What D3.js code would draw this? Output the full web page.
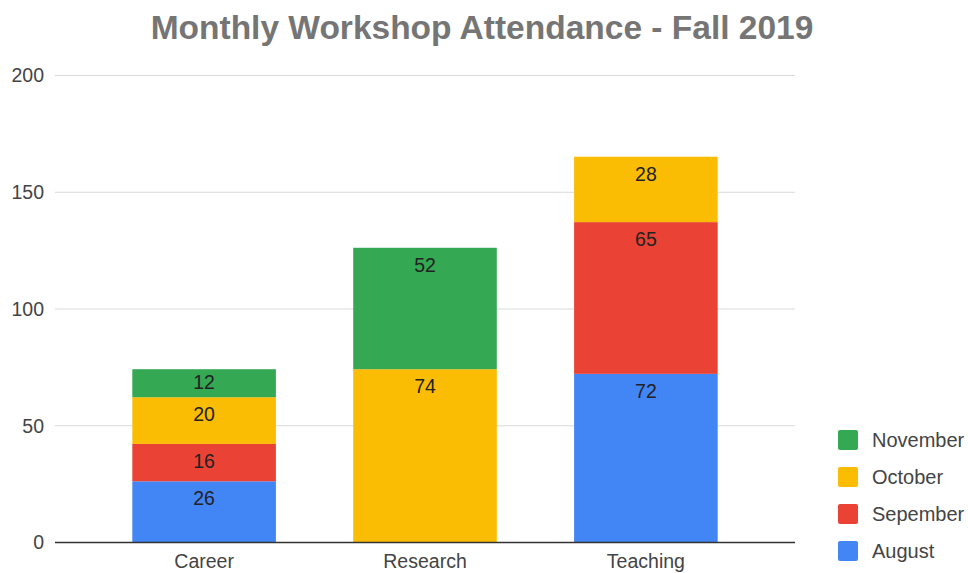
<!DOCTYPE html>
<meta charset="utf-8">
<style>
body { margin: 0; background: #fff; }
text { font-family: "Liberation Sans", Arial, sans-serif; }
.grid line { stroke: #d9d9d9; stroke-width: 1px; }
.tick text { fill: #444; font-size: 19.5px; font-family: "Liberation Sans", Arial, sans-serif; }
</style>
<body>
<script src="https://d3js.org/d3.v7.min.js"></script>
<script>

var width = 968,
    height = 573;

// data
var categories = ["Career", "Research", "Teaching"];
var months = ["August", "Sepember", "October", "November"];
var august   = [26, 0, 72];
var september = [16, 0, 65];
var october  = [20, 74, 28];
var november = [12, 52, 0];
var yTicks = [0, 50, 100, 150, 200];
var colors = ["#4285f4", "#ea4335", "#fbbc04", "#34a853"];

var series = [august, september, october, november];
var rows = categories.map(function(c, i) {
  var r = {cat: c};
  months.forEach(function(m, j) { r[m] = series[j][i]; });
  return r;
});

var x = d3.scaleBand()
    .domain(categories)
    .range([55, 795])
    .paddingInner(0.35)
    .paddingOuter(0.35);

var y = d3.scaleLinear()
    .domain([0, 200])
    .range([542, 75]);

var svg = d3.select("body").append("svg")
    .attr("width", width)
    .attr("height", height);

svg.append("text")
    .attr("x", 482)
    .attr("y", 39)
    .attr("text-anchor", "middle")
    .style("font-size", "33.5px")
    .style("font-weight", "bold")
    .style("fill", "#757575")
    .text("Monthly Workshop Attendance - Fall 2019");

// gridlines
svg.append("g")
    .attr("class", "grid")
    .selectAll("line")
    .data(yTicks.slice(1))
    .enter().append("line")
    .attr("x1", 55).attr("x2", 795)
    .attr("y1", function(d) { return y(d) + 0.5; })
    .attr("y2", function(d) { return y(d) + 0.5; });

// y axis labels
var yAxis = svg.append("g")
    .attr("transform", "translate(44,0)")
    .call(d3.axisLeft(y).tickValues(yTicks).tickSize(0).tickPadding(0));
yAxis.select(".domain").remove();
yAxis.selectAll("text").attr("dy", "0.35em");

var stack = d3.stack().keys(months)(rows);

var layer = svg.selectAll(".layer")
    .data(stack)
    .enter().append("g")
    .attr("class", "layer")
    .attr("fill", function(d, i) { return colors[i]; });

layer.selectAll("rect")
    .data(function(d) { return d.filter(function(s) { return s[1] > s[0]; }); })
    .enter().append("rect")
    .attr("x", function(d) { return x(d.data.cat); })
    .attr("y", function(d) { return y(d[1]); })
    .attr("width", x.bandwidth())
    .attr("height", function(d) { return y(d[0]) - y(d[1]); });

// label sits near the segment top, but stays inside short segments
layer.selectAll("text")
    .data(function(d) { return d.filter(function(s) { return s[1] > s[0]; }); })
    .enter().append("text")
    .attr("x", function(d) { return x(d.data.cat) + x.bandwidth() / 2; })
    .attr("y", function(d) {
      var top = y(d[1]), mid = (y(d[0]) + y(d[1])) / 2;
      return Math.min(top + 24, mid + 6);
    })
    .attr("text-anchor", "middle")
    .style("font-size", "19.5px")
    .style("fill", "#222")
    .text(function(d) { return d[1] - d[0]; });

// baseline
svg.append("line")
    .attr("x1", 55).attr("x2", 795)
    .attr("y1", y(0) + 0.5).attr("y2", y(0) + 0.5)
    .style("stroke", "#333")
    .style("stroke-width", 1.5);

// x axis labels
var xAxis = svg.append("g")
    .attr("transform", "translate(0," + 552 + ")")
    .call(d3.axisBottom(x).tickSize(0).tickPadding(0));
xAxis.select(".domain").remove();
xAxis.selectAll("text").attr("dy", "0.8em");

// legend, top entry is the last series
var legend = svg.selectAll(".legend")
    .data(months.slice().reverse())
    .enter().append("g")
    .attr("class", "legend")
    .attr("transform", function(d, i) { return "translate(838," + (430 + i * 37) + ")"; });

legend.append("rect")
    .attr("width", 20)
    .attr("height", 20)
    .attr("rx", 2)
    .attr("fill", function(d) { return colors[months.indexOf(d)]; });

legend.append("text")
    .attr("x", 34)
    .attr("y", 10)
    .attr("dy", "0.35em")
    .style("font-size", "20px")
    .style("fill", "#444")
    .text(function(d) { return d; });

</script>
